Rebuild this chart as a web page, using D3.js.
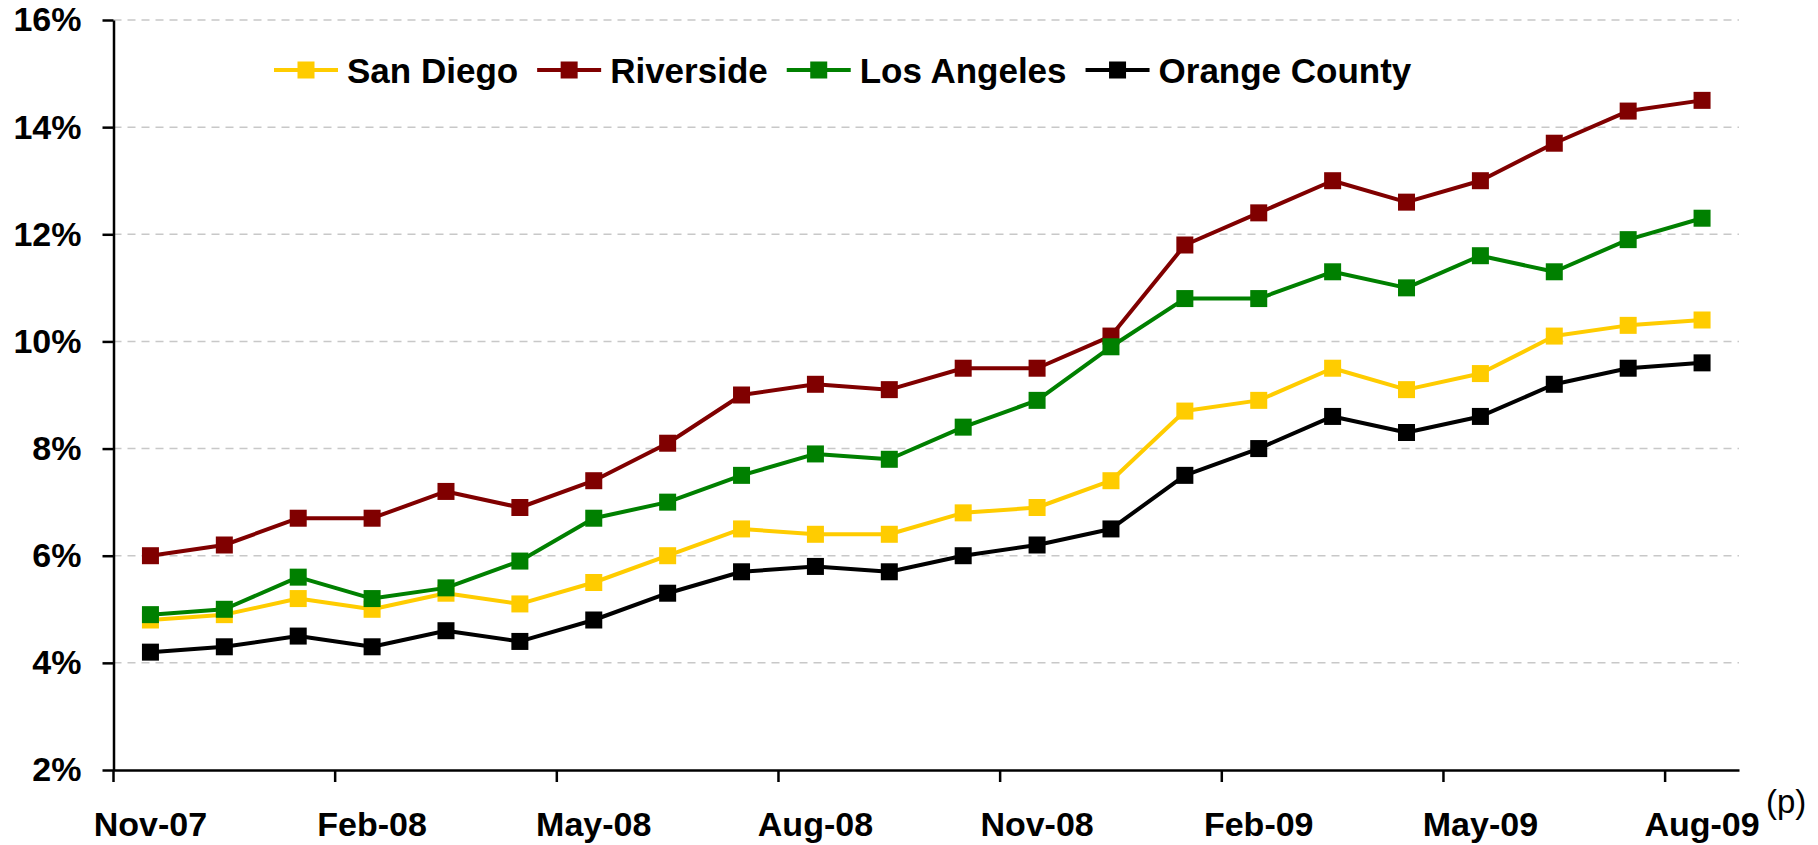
<!DOCTYPE html>
<html>
<head>
<meta charset="utf-8">
<script src="https://cdn.jsdelivr.net/npm/d3@7/dist/d3.min.js"></script>
<style>
  html, body { margin: 0; padding: 0; background: #fff; }
  svg { display: block; font-family: "Liberation Sans", Arial, sans-serif; }
</style>
</head>
<body>
<svg id="chart"></svg>
<script>
// months on the category axis
var months = ["Nov-07","Dec-07","Jan-08","Feb-08","Mar-08","Apr-08","May-08","Jun-08","Jul-08","Aug-08","Sep-08","Oct-08",
              "Nov-08","Dec-08","Jan-09","Feb-09","Mar-09","Apr-09","May-09","Jun-09","Jul-09","Aug-09"];
var labelMonths = ["Nov-07","Feb-08","May-08","Aug-08","Nov-08","Feb-09","May-09","Aug-09"];
var yTicks = [2, 4, 6, 8, 10, 12, 14, 16];

// unemployment rate, %
var sanDiego     = [4.8, 4.9, 5.2, 5.0, 5.3, 5.1, 5.5, 6.0, 6.5, 6.4, 6.4, 6.8, 6.9, 7.4, 8.7, 8.9, 9.5, 9.1, 9.4, 10.1, 10.3, 10.4];
var riverside    = [6.0, 6.2, 6.7, 6.7, 7.2, 6.9, 7.4, 8.1, 9.0, 9.2, 9.1, 9.5, 9.5, 10.1, 11.8, 12.4, 13.0, 12.6, 13.0, 13.7, 14.3, 14.5];
var losAngeles   = [4.9, 5.0, 5.6, 5.2, 5.4, 5.9, 6.7, 7.0, 7.5, 7.9, 7.8, 8.4, 8.9, 9.9, 10.8, 10.8, 11.3, 11.0, 11.6, 11.3, 11.9, 12.3];
var orangeCounty = [4.2, 4.3, 4.5, 4.3, 4.6, 4.4, 4.8, 5.3, 5.7, 5.8, 5.7, 6.0, 6.2, 6.5, 7.5, 8.0, 8.6, 8.3, 8.6, 9.2, 9.5, 9.6];

var seriesNames  = ["San Diego", "Riverside", "Los Angeles", "Orange County"];
var seriesColors = ["#ffcc00", "#800000", "#008000", "#000000"];
var seriesValues = [sanDiego, riverside, losAngeles, orangeCounty];

var width = 1818, height = 845;
var plotLeft = 113.5, plotRight = 1739, plotTop = 20, plotBottom = 770;

var svg = d3.select("#chart").attr("width", width).attr("height", height);

var x = d3.scaleBand().domain(months).range([plotLeft, plotRight]).padding(0);
var y = d3.scaleLinear().domain([2, 16]).range([plotBottom, plotTop]);

// dashed grid
svg.append("g").selectAll("line")
  .data(yTicks.slice(1))
  .enter().append("line")
  .attr("x1", plotLeft).attr("x2", plotRight)
  .attr("y1", function(d) { return y(d); })
  .attr("y2", function(d) { return y(d); })
  .attr("stroke", "#c8c8c8")
  .attr("stroke-width", 1.5)
  .attr("stroke-dasharray", "8,6");

// y axis
var yAxis = svg.append("g")
  .attr("transform", "translate(" + plotLeft + ",0)")
  .call(d3.axisLeft(y).tickValues(yTicks).tickFormat(function(d) { return d + "%"; })
        .tickSize(11).tickSizeOuter(0).tickPadding(21));
yAxis.select(".domain").attr("stroke", "#000").attr("stroke-width", 2.5);
yAxis.selectAll(".tick line").attr("stroke", "#000").attr("stroke-width", 2.5);
yAxis.selectAll("text").attr("font-size", "34px").attr("font-weight", "bold")
  .attr("fill", "#000").attr("font-family", "Liberation Sans, Arial, sans-serif");

// x axis: labels at category centres
var xAxis = svg.append("g")
  .attr("transform", "translate(0," + plotBottom + ")")
  .call(d3.axisBottom(x).tickValues(labelMonths).tickSize(0).tickPadding(42));
xAxis.select(".domain").attr("stroke", "#000").attr("stroke-width", 2.5);
xAxis.selectAll("text").attr("font-size", "34px").attr("font-weight", "bold")
  .attr("fill", "#000").attr("font-family", "Liberation Sans, Arial, sans-serif");

// x tick marks at category boundaries, every third month
svg.append("g").selectAll("line")
  .data(labelMonths)
  .enter().append("line")
  .attr("x1", function(d) { return x(d); })
  .attr("x2", function(d) { return x(d); })
  .attr("y1", plotBottom).attr("y2", plotBottom + 12)
  .attr("stroke", "#000").attr("stroke-width", 2.5);

svg.append("text")
  .attr("x", 1766).attr("y", 813)
  .attr("font-size", "33px")
  .attr("fill", "#000")
  .text("(p)");

// lines + square markers
var line = d3.line()
  .x(function(d, i) { return x(months[i]) + x.bandwidth() / 2; })
  .y(function(d) { return y(d); });

var marker = 17;

seriesValues.forEach(function(vals, k) {
  var g = svg.append("g");
  g.append("path")
    .datum(vals)
    .attr("d", line)
    .attr("fill", "none")
    .attr("stroke", seriesColors[k])
    .attr("stroke-width", 4)
    .attr("stroke-linejoin", "round");
  g.selectAll("rect")
    .data(vals)
    .enter().append("rect")
    .attr("x", function(d, i) { return x(months[i]) + x.bandwidth() / 2 - marker / 2; })
    .attr("y", function(d) { return y(d) - marker / 2; })
    .attr("width", marker).attr("height", marker)
    .attr("fill", seriesColors[k]);
});

// legend
var legendX = 274, legendY = 70;
var legend = svg.append("g");
seriesNames.forEach(function(name, k) {
  var item = legend.append("g").attr("transform", "translate(" + legendX + "," + legendY + ")");
  item.append("line").attr("x1", 0).attr("x2", 64).attr("y1", 0).attr("y2", 0)
    .attr("stroke", seriesColors[k]).attr("stroke-width", 4);
  item.append("rect").attr("x", 32 - marker / 2).attr("y", -marker / 2)
    .attr("width", marker).attr("height", marker).attr("fill", seriesColors[k]);
  var t = item.append("text").attr("x", 73).attr("y", 12.5)
    .attr("font-size", "35px").attr("font-weight", "bold").attr("fill", "#000")
    .text(name);
  legendX += 73 + t.node().getComputedTextLength() + 19;
});
</script>
</body>
</html>
